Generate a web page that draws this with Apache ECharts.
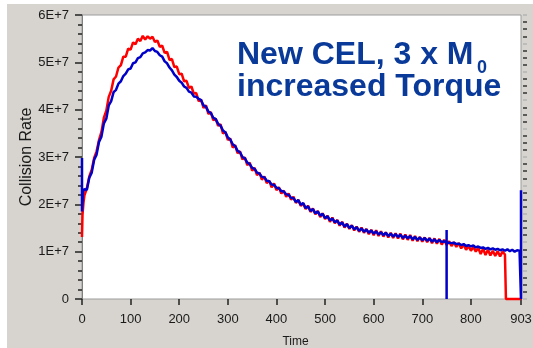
<!DOCTYPE html>
<html>
<head>
<meta charset="utf-8">
<script src="https://cdn.jsdelivr.net/npm/echarts@6/dist/echarts.min.js"></script>
<style>
html, body { margin: 0; padding: 0; background: #fff; }
#chartBox { position: absolute; left: 7px; top: 4px; width: 526px; height: 344px; background: #d7d4cf; }
</style>
</head>
<body>
<div id="chartBox"></div>
<script>
// collision rate values are in units of 1E+6
const timeRed = [
	0, 1, 3, 5, 10, 15, 20, 25, 30, 35,
	40, 45, 50, 55, 60, 65, 70, 75, 80, 85,
	90, 95, 100, 105, 110, 115, 120, 125, 130, 135,
	140, 145, 150, 155, 160, 165, 170, 175, 180, 185,
	190, 195, 200, 205, 210, 215, 220, 225, 230, 235,
	240, 245, 250, 255, 260, 265, 270, 275, 280, 285,
	290, 295, 300, 305, 310, 315, 320, 325, 330, 335,
	340, 345, 350, 355, 360, 365, 370, 375, 380, 385,
	390, 395, 400, 405, 410, 415, 420, 425, 430, 435,
	440, 445, 450, 455, 460, 465, 470, 475, 480, 485,
	490, 495, 500, 505, 510, 515, 520, 525, 530, 535,
	540, 545, 550, 555, 560, 565, 570, 575, 580, 585,
	590, 595, 600, 605, 610, 615, 620, 625, 630, 635,
	640, 645, 650, 655, 660, 665, 670, 675, 680, 685,
	690, 695, 700, 705, 710, 715, 720, 725, 730, 735,
	740, 745, 750, 755, 760, 765, 770, 775, 780, 785,
	790, 795, 800, 805, 810, 815, 820, 825, 830, 835,
	840, 845, 850, 855, 860, 865, 870, 872, 872, 903
]
const red = [
	13.1, 17.7, 20.3, 21.9, 23.4, 25.9, 27.3, 29.8, 31.2, 33.6,
	35.3, 38.3, 39.8, 42.7, 44.0, 46.4, 47.0, 48.9, 49.4, 51.2,
	51.2, 52.9, 52.7, 54.2, 53.8, 55.0, 54.5, 55.6, 54.8, 55.5,
	55.0, 55.4, 54.3, 54.6, 53.3, 53.5, 52.0, 52.2, 50.5, 50.7,
	49.0, 49.1, 47.5, 47.6, 46.0, 46.1, 44.6, 44.9, 43.4, 43.5,
	41.8, 42.1, 40.4, 40.9, 39.1, 39.5, 37.8, 38.1, 36.6, 36.9,
	35.0, 35.3, 33.6, 33.9, 32.0, 32.5, 30.8, 31.2, 29.5, 29.9,
	28.3, 28.8, 27.1, 27.7, 26.2, 26.7, 25.2, 25.9, 24.5, 25.0,
	23.6, 24.4, 23.0, 23.6, 22.3, 22.9, 21.6, 22.3, 21.0, 21.6,
	20.3, 20.9, 19.7, 20.2, 19.0, 19.7, 18.4, 19.1, 17.9, 18.6,
	17.3, 18.1, 16.9, 17.6, 16.3, 17.2, 16.0, 16.7, 15.5, 16.3,
	15.1, 15.9, 14.8, 15.6, 14.5, 15.3, 14.2, 15.1, 14.0, 14.8,
	13.7, 14.6, 13.5, 14.5, 13.3, 14.3, 13.2, 14.1, 13.0, 14.0,
	12.9, 13.9, 12.8, 13.8, 12.6, 13.6, 12.5, 13.5, 12.3, 13.3,
	12.2, 13.1, 12.1, 13.0, 12.0, 12.9, 11.8, 12.8, 11.7, 12.7,
	11.5, 12.5, 11.4, 12.2, 11.2, 12.0, 11.0, 11.8, 10.7, 11.5,
	10.4, 11.2, 10.2, 11.0, 10.0, 10.8, 9.5, 10.6, 9.3, 10.4,
	9.2, 10.2, 9.1, 10.1, 9.0, 10.0, 9.4, 9.8, 0, 0
]
const timeBlue = [
	0, 0, 2, 5, 10, 15, 20, 25, 30, 35,
	40, 45, 50, 55, 60, 65, 70, 75, 80, 85,
	90, 95, 100, 105, 110, 115, 120, 125, 130, 135,
	140, 145, 150, 155, 160, 165, 170, 175, 180, 185,
	190, 195, 200, 205, 210, 215, 220, 225, 230, 235,
	240, 245, 250, 255, 260, 265, 270, 275, 280, 285,
	290, 295, 300, 305, 310, 315, 320, 325, 330, 335,
	340, 345, 350, 355, 360, 365, 370, 375, 380, 385,
	390, 395, 400, 405, 410, 415, 420, 425, 430, 435,
	440, 445, 450, 455, 460, 465, 470, 475, 480, 485,
	490, 495, 500, 505, 510, 515, 520, 525, 530, 535,
	540, 545, 550, 555, 560, 565, 570, 575, 580, 585,
	590, 595, 600, 605, 610, 615, 620, 625, 630, 635,
	640, 645, 650, 655, 660, 665, 670, 675, 680, 685,
	690, 695, 700, 705, 710, 715, 720, 725, 730, 735,
	740, 745, 750, 750, 750, 750, 755, 760, 765, 770,
	775, 780, 785, 790, 795, 800, 805, 810, 815, 820,
	825, 830, 835, 840, 845, 850, 855, 860, 865, 870,
	875, 880, 885, 890, 895, 900, 903, 903, 903
]
const blue = [
	29.8, 18.5, 22.6, 23.2, 23.1, 25.6, 26.7, 29.4, 30.5, 33.2,
	34.3, 37.1, 38.1, 40.9, 41.8, 43.7, 44.2, 45.5, 46.0, 47.1,
	47.6, 48.5, 48.7, 49.8, 50.0, 50.9, 51.1, 51.9, 52.1, 52.6,
	52.5, 53.0, 52.4, 52.2, 51.5, 51.2, 50.2, 49.8, 48.9, 48.3,
	47.4, 46.9, 46.1, 45.7, 44.9, 44.6, 43.8, 43.6, 42.8, 42.7,
	42.3, 42.0, 40.9, 40.6, 39.6, 39.3, 38.3, 38.0, 37.0, 36.6,
	35.6, 35.2, 34.1, 33.7, 32.7, 32.3, 31.3, 31.0, 30.0, 29.7,
	28.8, 28.5, 27.7, 27.5, 26.7, 26.5, 25.8, 25.7, 25.0, 24.9,
	24.2, 24.1, 23.5, 23.4, 22.8, 22.7, 22.1, 22.0, 21.4, 21.3,
	20.5, 20.9, 19.9, 20.3, 19.2, 19.6, 18.6, 19.0, 18.1, 18.5,
	17.6, 18.0, 17.1, 17.5, 16.6, 17.0, 16.2, 16.6, 15.7, 16.2,
	15.3, 15.8, 15.0, 15.5, 14.7, 15.2, 14.4, 14.9, 14.2, 14.7,
	14.0, 14.5, 13.8, 14.3, 13.6, 14.1, 13.5, 14.0, 13.3, 13.8,
	13.2, 13.7, 13.1, 13.6, 12.9, 13.4, 12.8, 13.3, 12.6, 13.1,
	12.5, 13.0, 12.4, 12.9, 12.3, 12.8, 12.1, 12.6, 12.0, 12.5,
	12.0, 12.2, 11.9, 0, 14.6, 11.9, 11.9, 11.8, 11.9, 11.6,
	11.7, 11.4, 11.6, 11.2, 11.4, 11.1, 11.3, 10.9, 11.1, 10.8,
	10.9, 10.6, 10.8, 10.5, 10.7, 10.4, 10.6, 10.3, 10.5, 10.2,
	10.5, 10.1, 10.4, 10.0, 10.3, 10.2, 10.2, 0, 23.0
]
const xTickValues = [0, 100, 200, 300, 400, 500, 600, 700, 800, 903]
const yTickLabels = ['0', '1E+7', '2E+7', '3E+7', '4E+7', '5E+7', '6E+7']

const labelFont = { color: '#1a1a1a', fontFamily: 'Liberation Sans', fontSize: 13 }

const chartBox = echarts.init(document.getElementById('chartBox'))
const option = {
	animation: false,
	grid: {
		left: 75, top: 11, right: 12, bottom: 49, outerBoundsMode: 'none',
		show: true, backgroundColor: '#fff', borderColor: '#9c9c9c', borderWidth: 1
	},
	xAxis: {
		type: 'value', min: 0, max: 903, offset: 3,
		name: 'Time', nameLocation: 'middle', nameGap: 34, nameMoveOverlap: false,
		nameTextStyle: { color: '#1a1a1a', fontFamily: 'Liberation Sans', fontSize: 12, padding: [0, 12, 0, 0] },
		axisLine: { show: false },
		axisTick: { show: true, length: 6, customValues: xTickValues, lineStyle: { color: '#222', width: 1.5 } },
		axisLabel: Object.assign({ margin: 11, customValues: xTickValues }, labelFont),
		splitLine: { show: false },
	},
	yAxis: [
		{
			type: 'value', min: 0, max: 6e7, interval: 1e7,
			name: 'Collision Rate', nameLocation: 'middle', nameGap: 47, nameMoveOverlap: false,
			nameTextStyle: { color: '#1a1a1a', fontFamily: 'Liberation Sans', fontSize: 16 },
			axisLine: { show: true, lineStyle: { color: '#808080' } },
			axisTick: { show: true, length: 7, lineStyle: { color: '#222', width: 1.5 } },
			minorTick: { show: true, splitNumber: 5, length: 4, lineStyle: { color: '#222', width: 1.5 } },
			axisLabel: Object.assign({ margin: 13, formatter: (v) => yTickLabels[Math.round(v / 1e7)] }, labelFont),
			splitLine: { show: false },
		},
		{
			type: 'value', position: 'right', min: 0, max: 10, interval: 1, offset: 2,
			axisLine: { show: false },
			axisTick: { show: true, length: 4, lineStyle: { color: '#b4b4b4', width: 1.5 } },
			minorTick: { show: true, splitNumber: 4, length: 4, lineStyle: { color: '#333', width: 1.5 } },
			axisLabel: { show: false },
			splitLine: { show: false },
		}
	],
	graphic: [
		{ type: 'text', left: 230, top: 35, style: { text: 'New CEL, 3 x M', font: 'bold 32px "Liberation Sans"', fill: '#0a3a99' } },
		{ type: 'text', left: 470, top: 55, style: { text: '0', font: 'bold 18px "Liberation Sans"', fill: '#0a3a99' } },
		{ type: 'text', left: 230, top: 67, style: { text: 'increased Torque', font: 'bold 32px "Liberation Sans"', fill: '#0a3a99' } },
	],
	series: [
		{
			name: 'red', type: 'line', showSymbol: false, clip: false,
			lineStyle: { color: '#ff0000', width: 2.5 }, itemStyle: { color: '#ff0000' },
			data: timeRed.map((t, i) => [t, red[i] * 1e6]),
		},
		{
			name: 'blue', type: 'line', showSymbol: false, clip: false,
			lineStyle: { color: '#0000c8', width: 2.5 }, itemStyle: { color: '#0000c8' },
			data: timeBlue.map((t, i) => [t, blue[i] * 1e6]),
		}
	]
}
chartBox.setOption(option)
</script>
</body>
</html>
